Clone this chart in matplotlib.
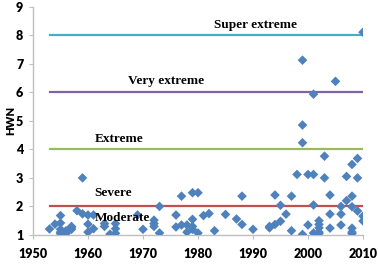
import matplotlib
matplotlib.use("Agg")
import matplotlib.pyplot as plt

# Heat wave events: year and HWN value
years = [1953, 1954,
         1955, 1955, 1955, 1955, 1955,
         1956, 1956, 1956,
         1957, 1957, 1957,
         1958,
         1959, 1959,
         1960, 1960, 1960,
         1961, 1961,
         1963, 1963,
         1964,
         1965, 1965, 1965,
         1969, 1970,
         1972, 1972, 1972,
         1973, 1973,
         1976, 1976,
         1977, 1977,
         1978, 1978,
         1979, 1979, 1979, 1979,
         1980, 1980,
         1981, 1982, 1983, 1985, 1987,
         1988, 1988,
         1990,
         1993, 1993,
         1994, 1994,
         1995, 1995,
         1996,
         1997, 1997,
         1998,
         1999, 1999, 1999, 1999,
         2000, 2000,
         2001, 2001, 2001, 2001,
         2002, 2002, 2002, 2002, 2002,
         2003, 2003,
         2004, 2004, 2004,
         2005,
         2006, 2006, 2006,
         2007, 2007,
         2008, 2008, 2008, 2008, 2008, 2008,
         2009, 2009, 2009,
         2010, 2010, 2010]
hwn = [1.21, 1.38,
       1.68, 1.42, 1.2, 1.05, 1.1,
       1.1, 1.05, 1.15,
       1.3, 1.2, 1.25,
       1.85,
       3.0, 1.74,
       1.7, 1.38, 1.1,
       1.7, 1.22,
       1.4, 1.3,
       1.03,
       1.4, 1.22, 1.06,
       1.7, 1.2,
       1.52, 1.4, 1.3,
       2.0, 1.07,
       1.7, 1.28,
       2.36, 1.35,
       1.35, 1.1,
       2.48, 1.55, 1.3, 1.2,
       2.48, 1.07,
       1.68, 1.75, 1.15, 1.72, 1.56,
       2.36, 1.37,
       1.2,
       1.25, 1.3,
       2.4, 1.37,
       2.04, 1.48,
       1.73,
       2.36, 1.15,
       3.12,
       7.12, 4.85, 4.23, 1.02,
       3.12, 1.35,
       5.93, 3.12, 2.05, 1.07,
       1.5, 1.37, 1.25, 1.1, 1.05,
       3.76, 3.0,
       2.4, 1.73, 1.24,
       6.38,
       2.0, 1.73, 1.35,
       3.05, 2.2,
       3.47, 2.36, 1.99, 1.24, 1.1, 1.05,
       3.68, 3.0, 1.84,
       8.1, 1.66, 1.49]

# Category thresholds
levels = [8, 6, 4, 2]
level_colors = ["#4BACC6", "#8064A2", "#9BBB59", "#C0504D"]
line_start, line_end = 1953, 2010

labels = ["Super extreme", "Very extreme", "Extreme", "Severe", "Moderate"]
label_x = [1990.5, 1974.2, 1965.7, 1964.5, 1966.3]
label_y = [8.35, 6.4, 4.35, 2.48, 1.6]

xticks = [1950, 1960, 1970, 1980, 1990, 2000, 2010]
yticks = [1, 2, 3, 4, 5, 6, 7, 8, 9]

fig = plt.figure(figsize=(3.78, 2.64), dpi=100)
ax = fig.add_axes([33/378, 29/264, 330/378, 228.5/264])

for lv, c in zip(levels, level_colors):
    ax.plot([line_start, line_end], [lv, lv], color=c, lw=1.6, zorder=2)

ax.scatter(years, hwn, marker="D", s=24, color="#4F81BD", edgecolors="none", zorder=3)

for t, x, y in zip(labels, label_x, label_y):
    ax.text(x, y, t, ha="center", va="center", family="Liberation Serif",
            fontweight="bold", fontsize=9.5, zorder=4)

ax.set_xlim(1950, 2010)
ax.set_ylim(1, 9)
ax.set_xticks(xticks)
ax.set_yticks(yticks)
ax.set_xticklabels([str(v) for v in xticks], family="Lato", fontweight="heavy", fontsize=9)
ax.set_yticklabels([str(v) for v in yticks], family="Lato", fontweight="heavy", fontsize=9)
ax.tick_params(axis="both", length=3, width=0.8, color="#BFBFBF", pad=2)
ax.tick_params(axis="x", pad=6)
ax.tick_params(axis="y", pad=4)
ax.set_ylabel("HWN", family="Lato", fontweight="heavy", fontsize=8, labelpad=0)

ax.spines["top"].set_visible(False)
ax.spines["right"].set_visible(False)
for s in ["left", "bottom"]:
    ax.spines[s].set_color("#BFBFBF")
    ax.spines[s].set_linewidth(1)

fig.savefig("out.png", dpi=100)
